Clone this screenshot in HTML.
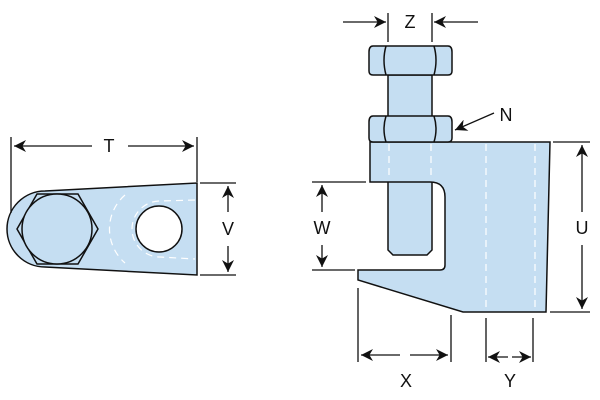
<!DOCTYPE html>
<html><head><style>body{margin:0;background:#fff}svg{display:block}text{font-family:"Liberation Sans",sans-serif;font-size:18px;fill:#111;text-anchor:middle;dominant-baseline:central}</style></head><body>
<svg width="600" height="400" viewBox="0 0 600 400">
<defs><marker id="a" viewBox="0 0 10 10" refX="10" refY="5" markerWidth="12" markerHeight="12" markerUnits="userSpaceOnUse" orient="auto"><path d="M0,0 L10,5 L0,10 L3,5z" fill="#111"/></marker></defs>
<g stroke="#111" stroke-width="1.5" fill="#c5def2">
<path d="M45,191 L197,183 L197,275 L45,267 A38,38 0 0 1 45,191 Z"/>
<circle cx="159" cy="229" r="23" fill="#fff"/>
<polygon points="17,229 37,194 78,194 98,229 78,264 37,264"/>
<circle cx="57" cy="229" r="35"/>
</g>
<g stroke="#fff" stroke-width="1.2" fill="none" stroke-dasharray="7,5">
<path d="M125,195 A45,45 0 0 0 125,263"/>
<path d="M195,200 L160,201 A28,28 0 0 0 160,257 L195,259"/>
</g>
<g stroke="#111" stroke-width="1.5" fill="#c5def2">
<path d="M388,75 L432,75 L432,250 L427,255 L393,255 L388,250 Z"/>
<path d="M370,142 L550,142 L546,312 L463,312 L358,280 L358,270 L440,270 Q445,270 445,265 L445,197 Q445,182 430,182 L370,182 Z"/>
<path d="M373,46 L448,46 Q452,46 452,52 L452,71 Q452,75 448,75 L373,75 Q369,75 369,71 L369,52 Q369,46 373,46 Z"/>
<path d="M386,46 Q382,60 386,75 M434,46 Q438,60 434,75" fill="none"/>
<path d="M373,116 L448,116 Q452,116 452,122 L452,138 Q452,142 448,142 L373,142 Q369,142 369,138 L369,122 Q369,116 373,116 Z"/>
<path d="M386,116 Q382,129 386,142 M434,116 Q438,129 434,142" fill="none"/>
</g>
<g stroke="#fff" stroke-width="1.2" stroke-dasharray="7,5">
<line x1="389" y1="144" x2="389" y2="180"/><line x1="431" y1="144" x2="431" y2="180"/>
<line x1="486" y1="144" x2="486" y2="310"/><line x1="535" y1="144" x2="535" y2="310"/>
</g>
<g stroke="#111" stroke-width="1.3" fill="none">
<line x1="11" y1="137" x2="11" y2="213"/><line x1="197" y1="137" x2="197" y2="182"/>
<line x1="92" y1="146" x2="14" y2="146" marker-end="url(#a)"/><line x1="128" y1="146" x2="194" y2="146" marker-end="url(#a)"/>
<line x1="200" y1="183" x2="236" y2="183"/><line x1="200" y1="275" x2="236" y2="275"/>
<line x1="228" y1="212" x2="228" y2="186" marker-end="url(#a)"/><line x1="228" y1="246" x2="228" y2="272" marker-end="url(#a)"/>
<line x1="388" y1="13" x2="388" y2="42"/><line x1="432" y1="13" x2="432" y2="42"/>
<line x1="343" y1="22" x2="386" y2="22" marker-end="url(#a)"/><line x1="478" y1="22" x2="434" y2="22" marker-end="url(#a)"/>
<line x1="494" y1="113" x2="455" y2="130" marker-end="url(#a)"/>
<line x1="553" y1="142" x2="590" y2="142"/><line x1="550" y1="312" x2="590" y2="312"/>
<line x1="582" y1="212" x2="582" y2="145" marker-end="url(#a)"/><line x1="582" y1="245" x2="582" y2="309" marker-end="url(#a)"/>
<line x1="312" y1="182" x2="366" y2="182"/><line x1="312" y1="270" x2="355" y2="270"/>
<line x1="322" y1="212" x2="322" y2="185" marker-end="url(#a)"/><line x1="322" y1="245" x2="322" y2="267" marker-end="url(#a)"/>
<line x1="358" y1="288" x2="358" y2="362"/><line x1="451" y1="315" x2="451" y2="362"/>
<line x1="400" y1="355" x2="361" y2="355" marker-end="url(#a)"/><line x1="410" y1="355" x2="448" y2="355" marker-end="url(#a)"/>
<line x1="486" y1="318" x2="486" y2="362"/><line x1="533" y1="318" x2="533" y2="362"/>
<line x1="508" y1="357" x2="488" y2="357" marker-end="url(#a)"/><line x1="512" y1="357" x2="531" y2="357" marker-end="url(#a)"/>
</g>
<text x="109" y="146">T</text><text x="228" y="229">V</text><text x="410" y="22">Z</text>
<text x="506" y="115">N</text><text x="582" y="228">U</text><text x="322" y="228">W</text>
<text x="406" y="381">X</text><text x="510" y="381">Y</text>
</svg></body></html>
